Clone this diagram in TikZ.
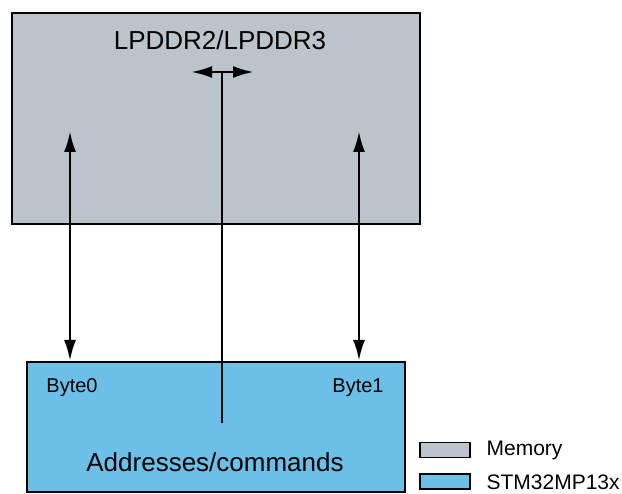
\documentclass[tikz,border=0pt]{standalone}
\usepackage{fontspec}
\setmainfont{Liberation Sans}
\usetikzlibrary{arrows.meta,positioning}
\definecolor{memgray}{HTML}{BAC4CA}
\definecolor{socblue}{HTML}{6CBFE6}

\begin{document}
\begin{tikzpicture}[x=1pt,y=-1pt,>={Latex[length=21pt,width=12pt]},line width=2.8pt,
    box/.style={draw,line width=1.8pt,inner sep=0pt,anchor=north west},
    key/.style={draw,line width=1.8pt,inner sep=0pt,minimum width=50pt,minimum height=15pt}]
    \useasboundingbox (0,0) rectangle (622,494);
    % blocks
    \node[box,fill=memgray,minimum width=408pt,minimum height=211pt] (mem) at (11,12) {};
    \node[box,fill=socblue,minimum width=378pt,minimum height=130pt] (soc) at (26,361) {};
    \node[font=\fontsize{26}{30}\selectfont] (memname) at (220,40) {LPDDR2/LPDDR3};
    \node[font=\fontsize{20}{24}\selectfont] (byte0) at (72,388) {Byte0};
    \node[font=\fontsize{20}{24}\selectfont] (byte1) at (358,388) {Byte1};
    \node[font=\fontsize{26}{30}\selectfont] (cmdname) at (215,462) {Addresses/commands};
    % data lanes
    \coordinate (b0top) at (70,131);
    \coordinate (b1top) at (359,131);
    \draw[<->] (b0top) -- (b0top |- soc.north);
    \draw[<->] (b1top) -- (b1top |- soc.north);
    % address/command bus
    \coordinate (cmd) at (222,423);
    \coordinate (tee) at (222,72);
    \draw (cmd) -- (tee);
    \draw[<->] ([xshift=-31pt]tee) -- ([xshift=32pt]tee);
    % legend
    \node[key,fill=memgray] (keymem) at (445,450) {};
    \node[key,fill=socblue,below=15pt of keymem] (keysoc) {};
    \node[font=\fontsize{21}{24}\selectfont,right=11pt of keymem] {Memory};
    \node[font=\fontsize{21}{24}\selectfont,right=11pt of keysoc] {STM32MP13x};
\end{tikzpicture}
\end{document}
